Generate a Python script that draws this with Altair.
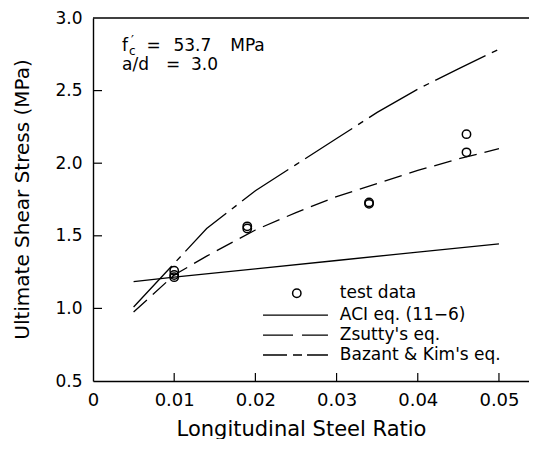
import altair as alt
import pandas as pd

# ---------------- data ----------------
rho_test = [0.010, 0.010, 0.010, 0.019, 0.019, 0.034, 0.034, 0.046, 0.046]
v_test = [1.26, 1.23, 1.215, 1.565, 1.55, 1.73, 1.72, 2.20, 2.075]

rho_aci = [0.005, 0.010, 0.020, 0.030, 0.040, 0.050]
v_aci = [1.185, 1.215, 1.272, 1.330, 1.388, 1.445]

rho_curve = [0.005, 0.010, 0.014, 0.020, 0.025, 0.030, 0.035, 0.040, 0.045, 0.050]
v_zsutty = [0.975, 1.23, 1.36, 1.54, 1.66, 1.77, 1.86, 1.95, 2.03, 2.10]
v_bazant = [1.01, 1.31, 1.55, 1.81, 1.99, 2.17, 2.35, 2.51, 2.65, 2.785]

x_ticks = [0, 0.01, 0.02, 0.03, 0.04, 0.05]
y_ticks = [0.5, 1.0, 1.5, 2.0, 2.5, 3.0]

legend_labels = ["test data", "ACI eq. (11\u22126)", "Zsutty's eq.", "Bazant & Kim's eq."]
x_title = "Longitudinal Steel Ratio"
y_title = "Ultimate Shear Stress (MPa)"

# ---------------- layout / style ----------------
W, H = 436, 363
FONT = "DejaVu Sans"
LW = 1.3

xs = alt.Scale(domain=[0, 0.0537], nice=False, zero=False)
ys = alt.Scale(domain=[0.5, 3.0], nice=False, zero=False)

x_axis = alt.Axis(
    values=x_ticks,
    labelExpr="datum.value == 0 ? '0' : format(datum.value, '.2f')",
    title=x_title, grid=False, ticks=False,
    domainColor="black", domainWidth=1.4,
    labelColor="black", labelFontSize=18, labelPadding=10, labelFlush=False,
    titleColor="black", titleFontSize=21, titleFontWeight="normal",
    titleX=208, titleY=54, titleBaseline="alphabetic", titleAlign="center",
)
y_axis = alt.Axis(
    values=y_ticks, format=".1f",
    title=y_title, grid=False, ticks=False,
    domainColor="black", domainWidth=1.4,
    labelColor="black", labelFontSize=17, labelPadding=11, labelFlush=False,
    titleColor="black", titleFontSize=20, titleFontWeight="normal",
    titleX=-71, titleY=181, titleAngle=270, titleBaseline="middle", titleAlign="center",
)

X = alt.X("x:Q", scale=xs, axis=x_axis)
Y = alt.Y("y:Q", scale=ys, axis=y_axis)


def frame(xv, yv):
    return pd.DataFrame({"x": xv, "y": yv})


aci = alt.Chart(frame(rho_aci, v_aci)).mark_line(color="black", strokeWidth=LW).encode(x=X, y=Y)
zsutty = alt.Chart(frame(rho_curve, v_zsutty)).mark_line(
    color="black", strokeWidth=LW, strokeDash=[18, 8]).encode(x=X, y=Y)
bazant = alt.Chart(frame(rho_curve, v_bazant)).mark_line(
    color="black", strokeWidth=LW, strokeDash=[56, 7, 6, 7]).encode(x=X, y=Y)
points = alt.Chart(frame(rho_test, v_test)).mark_point(
    shape="circle", filled=False, color="black", size=70, strokeWidth=1.5, opacity=1
).encode(x=X, y=Y)

# inward ticks and top border
xt = alt.Chart(pd.DataFrame({"x": x_ticks[1:]})).mark_rule(color="black", strokeWidth=1.2).encode(
    x=X, y=alt.value(H), y2=alt.value(H - 8))
yt = alt.Chart(pd.DataFrame({"y": y_ticks[1:-1]})).mark_rule(color="black", strokeWidth=1.2).encode(
    y=Y, x=alt.value(0), x2=alt.value(9))
top = alt.Chart(pd.DataFrame({"y": [3.0]})).mark_rule(color="black", strokeWidth=1.4).encode(
    y=Y, x=alt.value(0), x2=alt.value(W))

# annotation  f'c = 53.7 MPa / a/d = 3.0
ann = pd.DataFrame({
    "x": [0.00357, 0.0066, 0.0099, 0.0169, 0.00357, 0.00899, 0.01207],
    "y": [2.77, 2.77, 2.77, 2.77, 2.64, 2.64, 2.64],
    "t": ["f", "=", "53.7", "MPa", "a/d", "=", "3.0"],
})
ann_main = alt.Chart(ann).mark_text(align="left", baseline="alphabetic", fontSize=17, color="black").encode(
    x=X, y=Y, text="t:N")
ann_sub = alt.Chart(pd.DataFrame({"x": [0.00357], "y": [2.77], "t": ["c"]})).mark_text(
    align="left", baseline="alphabetic", fontSize=12, dx=7, dy=4, color="black").encode(x=X, y=Y, text="t:N")
ann_prime = alt.Chart(pd.DataFrame({"x": [0.00357], "y": [2.77], "t": ["\u2032"]})).mark_text(
    align="left", baseline="alphabetic", fontSize=13, dx=9, dy=-7, color="black").encode(x=X, y=Y, text="t:N")

# manual legend
leg_y = [1.104, 0.953, 0.816, 0.679]
leg_x0, leg_x1, leg_sym, leg_txt = 0.02094, 0.02894, 0.0251, 0.0304
leg_sym_layer = alt.Chart(pd.DataFrame({"x": [leg_sym], "y": [leg_y[0]]})).mark_point(
    shape="circle", filled=False, color="black", size=70, strokeWidth=1.5, opacity=1).encode(x=X, y=Y)


def leg_line(row, dash):
    d = pd.DataFrame({"x": [leg_x0], "x2": [leg_x1], "y": [leg_y[row]]})
    kw = dict(color="black", strokeWidth=LW)
    if dash:
        kw["strokeDash"] = dash
    return alt.Chart(d).mark_rule(**kw).encode(x=X, x2="x2:Q", y=Y)


leg_text = alt.Chart(pd.DataFrame({"x": [leg_txt] * 4, "y": leg_y, "t": legend_labels})).mark_text(
    align="left", baseline="middle", fontSize=17, color="black").encode(x=X, y=Y, text="t:N")

chart = alt.layer(
    aci, zsutty, bazant, points, xt, yt, top,
    ann_main, ann_sub, ann_prime,
    leg_sym_layer, leg_line(1, None), leg_line(2, [30, 9]), leg_line(3, [24, 6, 9, 5]), leg_text,
).properties(
    width=W, height=H,
    padding={"left": 85, "top": 10, "right": 0, "bottom": 58},
    autosize=alt.AutoSizeParams(type="none"),
).configure(font=FONT).configure_view(stroke=None)

chart.save("out.html", embed_options={"renderer": "svg", "actions": False})
